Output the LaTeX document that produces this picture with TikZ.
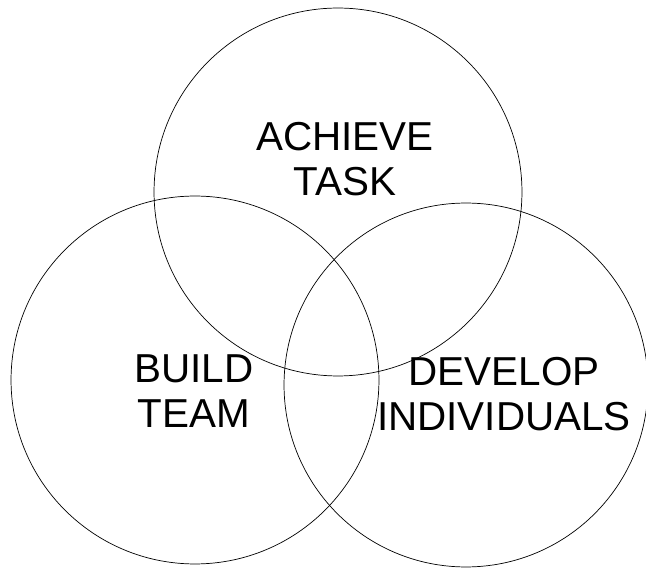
\documentclass[tikz,border=0pt]{standalone}
\usepackage{fontspec}
\setmainfont{Liberation Sans}

\begin{document}
\begin{tikzpicture}[x=0.02cm,y=-0.02cm,
    ring/.style ={circle, draw, thin, inner sep=0pt},
    goal/.style ={align=center, font=\fontsize{23}{25.5}\selectfont}]
   \useasboundingbox (0,0) rectangle (646,570);
   \node[ring, minimum size=7.36cm] (task) at (338,192)  {};
   \node[ring, minimum size=7.36cm] (team) at (195,380)  {};
   \node[ring, minimum size=7.28cm] (indiv) at (466,385)  {};
   \node[goal] (tasktext) at (345,159)  {ACHIEVE\\TASK};
   \node[goal] (teamtext) at (194,391)  {BUILD\\TEAM};
   \node[goal] (indivtext) at (504,394)  {DEVELOP\\INDIVIDUALS};
 \end{tikzpicture}
\end{document}
